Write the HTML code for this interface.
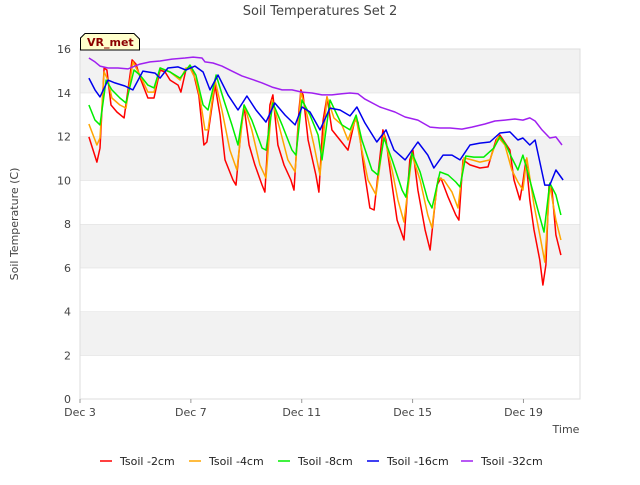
<!DOCTYPE html>
<html><head><meta charset="utf-8"><style>
body{margin:0;background:#fff;}
svg{font-family:"DejaVu Sans","Liberation Sans",sans-serif;}
</style></head><body>
<svg id="chart" width="640" height="480" viewBox="0 0 640 480">
<text x="320" y="15" text-anchor="middle" font-size="13" fill="#444">Soil Temperatures Set 2</text>
<g id="bands"></g>
<rect x="80" y="49" width="500" height="350" fill="none" stroke="#ddd"/>
<g id="yticks"></g><g id="xticks"></g><g id="lines"></g>
<text x="18" y="224" transform="rotate(-90 18 224)" text-anchor="middle" font-size="11" fill="#444">Soil Temperature (C)</text>
<text x="566" y="433" text-anchor="middle" font-size="11" fill="#444">Time</text>
<g>
<path d="M80.5,50 L80.5,38 L85,33.5 L134,33.5 L139.5,39 L139.5,50 Z" fill="#ffffcc" stroke="#000" stroke-width="1"/>
<text x="87" y="46" font-size="11" font-weight="bold" fill="#8b0000">VR_met</text>
</g>
<g id="legend"></g>
</svg>
<script>
const yTicks=[0,2,4,6,8,10,12,14,16];
const xTickDays=[3,7,11,15,19];
const xTickLabels=["Dec 3","Dec 7","Dec 11","Dec 15","Dec 19"];
const seriesNames=["Tsoil -2cm","Tsoil -4cm","Tsoil -8cm","Tsoil -16cm","Tsoil -32cm"];
const seriesColors=["#ff0000","#ffa500","#00ee00","#0000ee","#a020f0"];
const redDays=[3.32,3.61,3.72,3.87,3.97,4.12,4.33,4.59,4.88,5.02,5.20,5.45,5.67,5.89,6.07,6.25,6.54,6.64,6.82,6.97,7.11,7.29,7.47,7.58,7.87,8.05,8.23,8.52,8.63,8.81,8.92,9.10,9.31,9.57,9.67,9.85,9.96,10.14,10.36,10.61,10.72,10.90,10.97,11.05,11.23,11.51,11.62,11.77,11.91,12.09,12.38,12.67,12.92,13.03,13.25,13.46,13.61,13.93,14.04,14.26,14.44,14.69,14.90,15.01,15.19,15.45,15.63,15.88,16.02,16.28,16.56,16.67,16.82,17.07,17.43,17.72,18.01,18.15,18.51,18.66,18.87,18.98,19.09,19.23,19.38,19.59,19.70,19.81,19.92,20.03,20.17,20.35];
const redVals=[11.98,10.83,11.47,15.13,15.04,13.44,13.12,12.85,15.50,15.31,14.58,13.76,13.76,15.04,14.95,14.58,14.35,14.03,15.04,15.18,14.81,13.85,11.61,11.75,14.35,12.98,10.93,10.01,9.78,12.30,13.35,11.61,10.70,9.78,9.46,13.44,13.90,11.61,10.70,10.01,9.55,13.21,14.13,13.90,11.84,10.24,9.46,12.75,13.81,12.30,11.84,11.38,12.75,12.66,10.47,8.73,8.64,12.30,11.84,9.78,8.18,7.27,10.93,11.38,9.55,7.73,6.81,9.78,10.10,9.23,8.41,8.18,10.93,10.70,10.56,10.61,11.84,12.07,11.38,10.01,9.10,9.92,10.93,9.10,7.73,6.35,5.21,6.13,9.78,9.55,7.50,6.58];
const orangeDays=[3.32,3.61,3.72,3.87,4.01,4.15,4.44,4.66,4.91,5.16,5.45,5.67,5.89,6.25,6.61,6.82,6.97,7.18,7.33,7.51,7.62,7.87,8.12,8.41,8.66,8.92,9.20,9.49,9.71,9.93,10.22,10.50,10.76,10.97,11.15,11.44,11.66,11.91,12.16,12.45,12.67,12.96,13.17,13.39,13.68,13.97,14.26,14.47,14.69,14.98,15.27,15.55,15.70,15.92,16.13,16.42,16.64,16.85,17.14,17.43,17.79,18.08,18.33,18.58,18.80,18.98,19.12,19.38,19.59,19.77,19.95,20.17,20.35];
const orangeVals=[12.57,11.61,11.93,14.95,14.58,13.76,13.44,13.30,15.41,14.81,14.03,14.03,15.13,14.95,14.58,15.13,15.13,14.58,13.76,12.30,12.30,14.58,13.21,11.38,10.47,13.44,12.30,10.70,10.10,13.67,12.30,10.93,10.38,14.03,13.21,11.61,10.24,13.81,12.85,12.53,11.84,12.85,11.38,10.01,9.33,12.07,10.47,9.10,8.09,11.15,10.01,8.41,7.82,10.10,10.01,9.46,8.73,11.02,10.93,10.83,10.93,11.98,11.61,10.47,9.92,9.55,11.02,8.87,7.50,6.26,9.78,8.18,7.27];
const greenDays=[3.32,3.54,3.72,3.94,4.15,4.44,4.66,4.95,5.16,5.45,5.67,5.89,6.25,6.61,6.97,7.18,7.44,7.62,7.91,8.19,8.48,8.70,8.92,9.20,9.57,9.71,9.96,10.29,10.65,10.79,11.01,11.30,11.59,11.73,12.02,12.45,12.74,12.96,13.17,13.53,13.75,13.97,14.26,14.62,14.76,14.98,15.27,15.55,15.70,15.99,16.28,16.56,16.71,16.92,17.21,17.57,17.93,18.15,18.37,18.58,18.80,18.98,19.23,19.52,19.74,19.95,20.17,20.35];
const greenVals=[13.44,12.75,12.53,14.58,14.13,13.76,13.53,15.04,14.81,14.35,14.22,15.13,14.95,14.67,15.27,14.81,13.44,13.21,14.81,13.67,12.53,11.61,13.44,12.75,11.47,11.38,13.53,12.53,11.38,11.15,13.67,12.98,12.07,10.93,13.67,12.53,12.30,12.98,11.84,10.47,10.24,11.93,10.93,9.55,9.23,11.25,10.38,9.10,8.73,10.38,10.24,9.92,9.69,11.11,11.06,11.06,11.47,11.98,11.61,11.02,10.47,11.15,10.01,8.64,7.63,9.87,9.33,8.41];
const blueDays=[3.32,3.54,3.72,4.01,4.26,4.62,4.91,5.27,5.71,5.89,6.17,6.54,6.82,7.15,7.44,7.69,7.98,8.34,8.70,9.02,9.35,9.71,10.03,10.40,10.76,11.01,11.30,11.66,12.02,12.38,12.74,12.99,13.28,13.71,14.04,14.33,14.73,15.19,15.55,15.77,16.10,16.42,16.71,17.07,17.43,17.79,18.15,18.51,18.80,18.98,19.23,19.42,19.77,19.95,20.17,20.43];
const blueVals=[14.67,14.13,13.81,14.58,14.45,14.31,14.13,14.99,14.90,14.67,15.13,15.18,15.04,15.22,14.95,14.13,14.81,13.90,13.21,13.85,13.21,12.66,13.53,12.98,12.53,13.35,13.12,12.30,13.30,13.21,12.94,13.35,12.62,11.75,12.30,11.38,10.93,11.75,11.15,10.56,11.15,11.15,10.93,11.61,11.70,11.75,12.16,12.21,11.84,11.93,11.61,11.84,9.78,9.78,10.47,10.01];
const purpleDays=[3.32,3.54,3.72,4.01,4.37,4.73,5.16,5.53,5.89,6.32,6.79,7.08,7.40,7.51,7.80,8.12,8.48,8.84,9.28,9.57,9.93,10.29,10.65,11.01,11.37,11.73,12.09,12.45,12.74,13.03,13.28,13.82,14.36,14.73,15.19,15.63,15.99,16.35,16.78,17.14,17.61,17.97,18.33,18.69,18.98,19.23,19.42,19.67,19.95,20.17,20.39];
const purpleVals=[15.59,15.41,15.22,15.13,15.13,15.09,15.31,15.41,15.45,15.54,15.59,15.63,15.59,15.41,15.36,15.22,14.99,14.77,14.58,14.45,14.26,14.13,14.13,14.03,13.99,13.90,13.90,13.95,13.99,13.95,13.71,13.35,13.12,12.89,12.75,12.43,12.39,12.39,12.34,12.43,12.57,12.71,12.75,12.80,12.75,12.85,12.71,12.30,11.93,11.98,11.61];
const allDays=[redDays,orangeDays,greenDays,blueDays,purpleDays];
const allVals=[redVals,orangeVals,greenVals,blueVals,purpleVals];

const NS="http://www.w3.org/2000/svg";
const X0=80,X1=580,Y0=399,Y1=49,D0=3,D1=21.04,V0=0,V1=16;
function xs(d){return X0+(d-D0)/(D1-D0)*(X1-X0);}
function ys(v){return Y0-(v-V0)/(V1-V0)*(Y0-Y1);}
function mk(tag,attrs,parent){const e=document.createElementNS(NS,tag);for(const k in attrs)e.setAttribute(k,attrs[k]);parent.appendChild(e);return e;}
const bands=document.getElementById('bands');
for(let i=0;i<yTicks.length-1;i++){
  const a=yTicks[i],b=yTicks[i+1];
  const r=mk('rect',{x:X0,y:ys(b),width:X1-X0,height:ys(a)-ys(b),fill:(i%2===1)?'#f2f2f2':'#ffffff'},bands);
  
  
  const l=mk('line',{x1:X0,x2:X1,y1:ys(b),y2:ys(b),stroke:'#ddd'},bands);
  
  
}
const yt=document.getElementById('yticks');
yTicks.forEach(v=>{
  const t=mk('text',{x:X0-9,y:ys(v)+4,'text-anchor':'end','font-size':'11',fill:'#444'},yt);
  t.textContent=v;
  
  
});
const xt=document.getElementById('xticks');
xTickDays.forEach((d,i)=>{
  mk('line',{x1:xs(d),x2:xs(d),y1:Y0,y2:Y0+4,stroke:'#999'},xt);
  const t=mk('text',{x:xs(d),y:Y0+17,'text-anchor':'middle','font-size':'11',fill:'#444'},xt);
  t.textContent=xTickLabels[i];
  
  
});
const lg=document.getElementById('lines');
allDays.forEach((days,si)=>{
  const pts=days.map((d,i)=>xs(d).toFixed(1)+','+ys(allVals[si][i]).toFixed(1)).join(' ');
  const p=mk('polyline',{points:pts,fill:'none',stroke:seriesColors[si],'stroke-width':'1.5','stroke-linejoin':'round'},lg);
  
  
});
const leg=document.getElementById('legend');
const legX=[100,189,278,367,461];
seriesNames.forEach((n,i)=>{
  const g=mk('g',{},leg);
  
  
  mk('line',{x1:legX[i],x2:legX[i]+12,y1:461,y2:461,stroke:seriesColors[i],'stroke-width':'1.5'},g);
  const t=mk('text',{x:legX[i]+20,y:465,'font-size':'11',fill:'#222'},g);
  t.textContent=n;
});
</script>
</body></html>
